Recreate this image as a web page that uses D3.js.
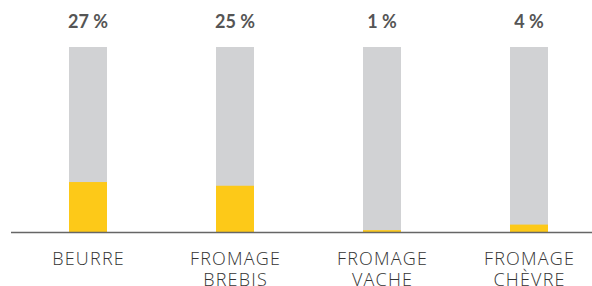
<!DOCTYPE html>
<html>
<head>
<meta charset="utf-8">
<script src="https://cdn.jsdelivr.net/npm/d3@7"></script>
<style>
body { margin: 0; background: #fff; }
</style>
</head>
<body>
<div id="chart"></div>
<script>
var categories = [["BEURRE"], ["FROMAGE", "BREBIS"], ["FROMAGE", "VACHE"], ["FROMAGE", "CHÈVRE"]];
var values = [27, 25, 1, 4];
var labels = ["27 %", "25 %", "1 %", "4 %"];

var width = 592;
var height = 286;
var baseY = 232;
var topY = 47;
var barWidth = 38;

var svg = d3.select("#chart")
	.append("svg")
	.attr("width", width)
	.attr("height", height);

var x = d3.scalePoint()
	.domain(d3.range(categories.length))
	.range([88, 529]);

var y = d3.scaleLinear()
	.domain([0, 100])
	.range([baseY, topY]);

// gray background bars (100 %)
svg.selectAll("rect.bg")
	.data(values)
	.enter()
	.append("rect")
	.attr("class", "bg")
	.attr("x", function(d, i) { return x(i) - barWidth / 2; })
	.attr("y", y(100))
	.attr("width", barWidth)
	.attr("height", y(0) - y(100))
	.attr("fill", "#d1d2d4");

// yellow value bars
svg.selectAll("rect.val")
	.data(values)
	.enter()
	.append("rect")
	.attr("class", "val")
	.attr("x", function(d, i) { return x(i) - barWidth / 2; })
	.attr("y", function(d) { return y(d); })
	.attr("width", barWidth)
	.attr("height", function(d) { return y(0) - y(d); })
	.attr("fill", "#fdc918");

// baseline
svg.append("line")
	.attr("x1", 11)
	.attr("x2", width)
	.attr("y1", baseY + 0.5)
	.attr("y2", baseY + 0.5)
	.attr("stroke", "#666")
	.attr("stroke-width", 1.5);

// percentage labels
svg.selectAll("text.pct")
	.data(labels)
	.enter()
	.append("text")
	.attr("class", "pct")
	.attr("x", function(d, i) { return x(i); })
	.attr("y", 28)
	.attr("text-anchor", "middle")
	.attr("font-family", "Lato, 'Open Sans', sans-serif")
	.attr("font-weight", "bold")
	.attr("font-size", "18px")
	.attr("fill", "#555")
	.text(function(d) { return d; });

// category labels
var cat = svg.selectAll("text.cat")
	.data(categories)
	.enter()
	.append("text")
	.attr("class", "cat")
	.attr("x", function(d, i) { return x(i) + 0.6; })
	.attr("y", 265)
	.attr("text-anchor", "middle")
	.attr("font-family", "'Open Sans', sans-serif")
	.attr("font-weight", 300)
	.attr("font-size", "18px")
	.attr("letter-spacing", "1.2px")
	.attr("fill", "#333");

cat.selectAll("tspan")
	.data(function(d) { return d; })
	.enter()
	.append("tspan")
	.attr("x", function() { return d3.select(this.parentNode).attr("x"); })
	.attr("dy", function(d, i) { return i === 0 ? 0 : 21; })
	.text(function(d) { return d; });
</script>
</body>
</html>
